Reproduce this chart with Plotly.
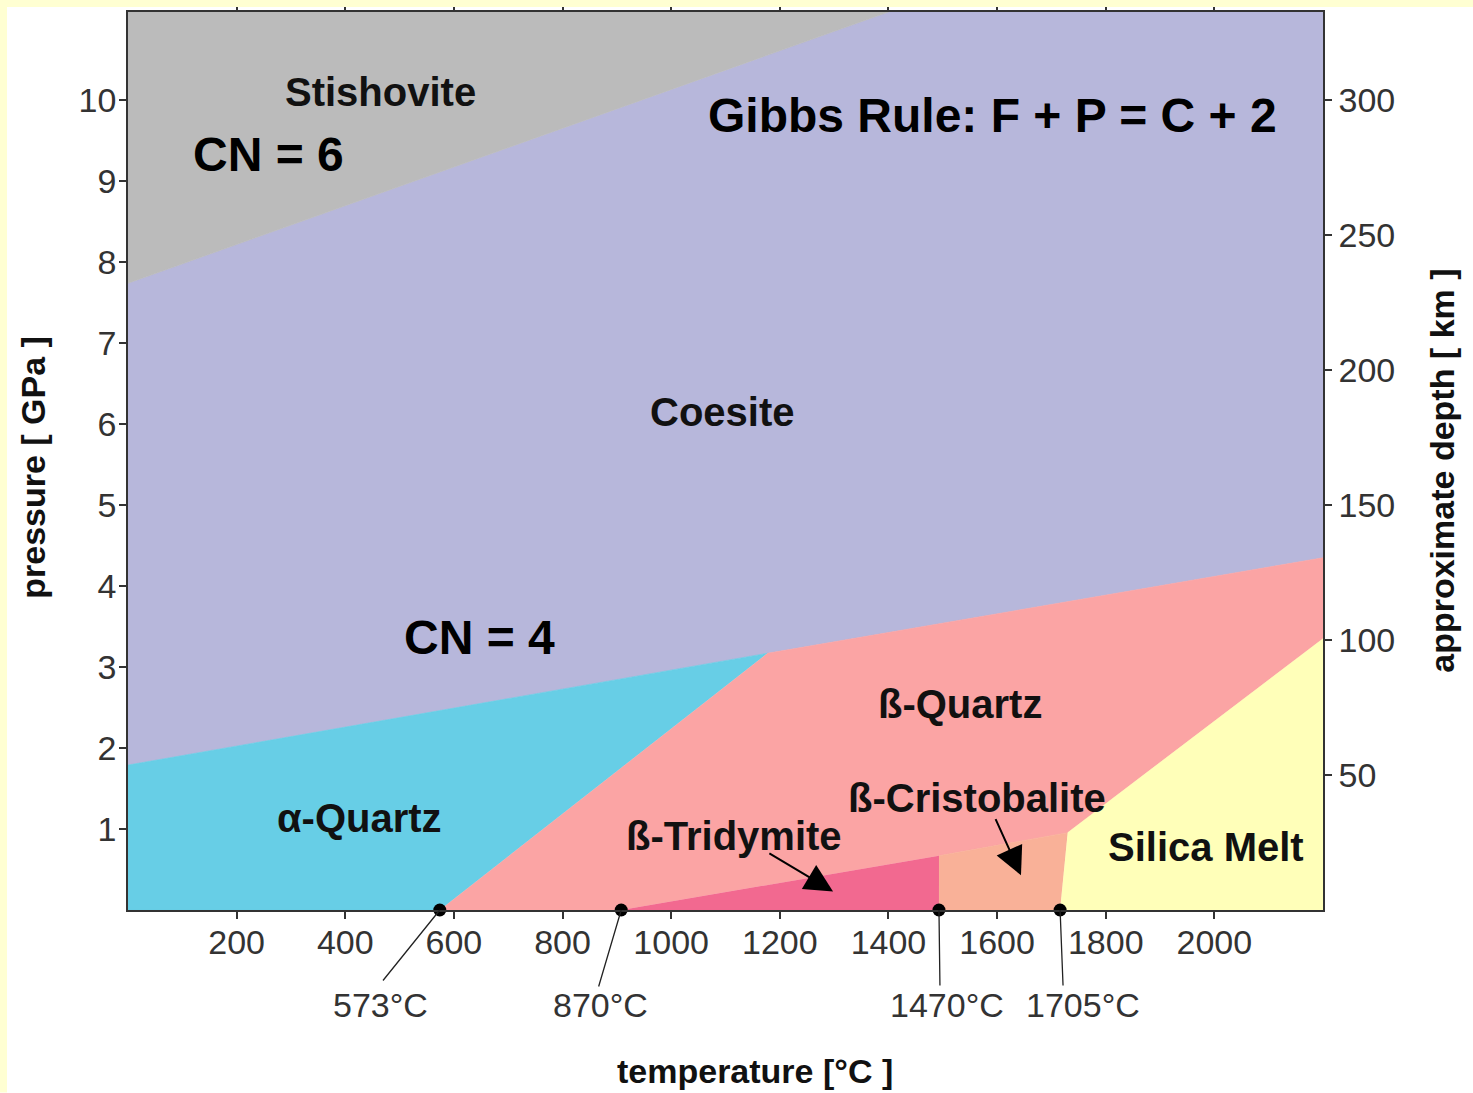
import plotly.graph_objects as go

# ---------------- data ----------------
T_MAX = 2200
P_MAX = 11.09
KM_PER_GPA = 30

stishovite_T = [0, 1400, 0]
stishovite_P = [7.74, 11.09, 11.09]
coesite_T = [0, 1177, 2200, 2200, 1400, 0]
coesite_P = [1.79, 3.17, 4.35, 11.09, 11.09, 7.74]
alpha_quartz_T = [0, 574, 1177, 0]
alpha_quartz_P = [0, 0, 3.17, 1.79]
beta_quartz_T = [574, 908, 1493, 1730, 2200, 2200, 1177]
beta_quartz_P = [0, 0, 0.67, 0.955, 3.35, 4.35, 3.17]
tridymite_T = [908, 1493, 1493]
tridymite_P = [0, 0, 0.67]
cristobalite_T = [1493, 1716, 1730, 1493]
cristobalite_P = [0, 0, 0.955, 0.67]
melt_T = [1716, 2200, 2200, 1730]
melt_P = [0, 0, 3.35, 0.955]

transition_T = [574, 908, 1493, 1716]
transition_labels = ["573°C", "870°C", "1470°C", "1705°C"]
transition_label_T = [465, 870, 1507, 1759]

field_names = ["Stishovite", "Coesite", "α-Quartz", "ß-Quartz", "ß-Tridymite",
               "ß-Cristobalite", "Silica Melt"]
field_label_T = [464, 1094, 427, 1532, 1116, 1563, 1985]
field_label_P = [10.10, 6.15, 1.14, 2.54, 0.92, 1.38, 0.78]

big_texts = ["CN = 6", "CN = 4", "Gibbs Rule: F + P = C + 2"]
big_text_T = [258, 648, 1591]
big_text_P = [9.33, 3.36, 9.81]

x_ticks = [200, 400, 600, 800, 1000, 1200, 1400, 1600, 1800, 2000]
p_ticks = [1, 2, 3, 4, 5, 6, 7, 8, 9, 10]
depth_ticks = [50, 100, 150, 200, 250, 300]

# ---------------- styling ----------------
W, H = 1473, 1093
L, R, TOP, B = 128, 150, 12, 182.5
PW, PH = W - L - R, H - TOP - B
FONT = "Liberation Sans, Arial, sans-serif"


def px(xp):
    return (xp - L) / PW


def py(yp):
    return (H - B - yp) / PH


fields = [
    (coesite_T, coesite_P, "#b7b7db"),
    (stishovite_T, stishovite_P, "#bbbbbb"),
    (alpha_quartz_T, alpha_quartz_P, "#67cee6"),
    (beta_quartz_T, beta_quartz_P, "#fba4a4"),
    (tridymite_T, tridymite_P, "#f26990"),
    (cristobalite_T, cristobalite_P, "#f9b198"),
    (melt_T, melt_P, "#ffffb9"),
]

fig = go.Figure()
for t, p, c in fields:
    fig.add_trace(go.Scatter(x=t, y=p, fill="toself", fillcolor=c, mode="lines",
                             line=dict(color=c, width=0.6), hoverinfo="skip",
                             showlegend=False))

fig.add_trace(go.Scatter(x=transition_T, y=[0] * len(transition_T), mode="markers",
                         marker=dict(color="black", size=13), cliponaxis=False,
                         showlegend=False, hoverinfo="skip"))

# invisible trace for right axis
fig.add_trace(go.Scatter(x=[0], y=[0], yaxis="y2", mode="markers",
                         marker=dict(opacity=0), showlegend=False, hoverinfo="skip"))

annotations = []
for name, t, p in zip(field_names, field_label_T, field_label_P):
    annotations.append(dict(x=t, y=p, xref="x", yref="y", text="<b>%s</b>" % name,
                            showarrow=False, xanchor="center", yanchor="middle",
                            font=dict(family=FONT, size=40, color="#111")))
for name, t, p in zip(big_texts, big_text_T, big_text_P):
    annotations.append(dict(x=t, y=p, xref="x", yref="y", text="<b>%s</b>" % name,
                            showarrow=False, xanchor="center", yanchor="middle",
                            font=dict(family=FONT, size=48, color="black")))

# arrows to tridymite / cristobalite
annotations.append(dict(x=1298, y=0.23, ax=1178, ay=0.71, xref="x", yref="y",
                        axref="x", ayref="y", text="", showarrow=True, arrowhead=2,
                        arrowsize=2.8, arrowwidth=2, arrowcolor="black"))
annotations.append(dict(x=1644, y=0.43, ax=1596, ay=1.14, xref="x", yref="y",
                        axref="x", ayref="y", text="", showarrow=True, arrowhead=2,
                        arrowsize=2.8, arrowwidth=2, arrowcolor="black"))

# leader lines and transition labels
leader_dx = [-58, -23, 1, 3]
leader_dy = [72, 78, 77, 77]
for t, dx, dy in zip(transition_T, leader_dx, leader_dy):
    annotations.append(dict(x=t, y=0, xref="x", yref="y", ax=dx, ay=dy, text="",
                            showarrow=True, arrowhead=0, arrowwidth=1.3,
                            arrowcolor="#222"))
for t, lab in zip(transition_label_T, transition_labels):
    annotations.append(dict(x=t, y=py(1006), xref="x", yref="paper", text=lab,
                            showarrow=False, xanchor="center", yanchor="middle",
                            font=dict(family=FONT, size=34, color="#333")))

# axis titles
annotations.append(dict(x=px(755), y=py(1072), xref="paper", yref="paper",
                        text="<b>temperature [°C ]</b>", showarrow=False,
                        xanchor="center", yanchor="middle",
                        font=dict(family=FONT, size=34, color="#111")))
annotations.append(dict(x=px(33), y=py(468), xref="paper", yref="paper",
                        text="<b>pressure [ GPa ]</b>", showarrow=False, textangle=-90,
                        xanchor="center", yanchor="middle",
                        font=dict(family=FONT, size=34, color="#111")))
annotations.append(dict(x=px(1442), y=py(471), xref="paper", yref="paper",
                        text="<b>approximate depth [ km ]</b>", showarrow=False,
                        textangle=-90, xanchor="center", yanchor="middle",
                        font=dict(family=FONT, size=34, color="#111")))

shapes = [
    dict(type="rect", xref="paper", yref="paper", x0=px(0), x1=px(7), y0=py(H),
         y1=py(0), fillcolor="#ffffd2", line=dict(width=0)),
    dict(type="rect", xref="paper", yref="paper", x0=px(0), x1=px(W), y0=py(7),
         y1=py(0), fillcolor="#ffffd2", line=dict(width=0)),
]

tickfont = dict(family=FONT, size=34, color="#333")
common = dict(showgrid=False, zeroline=False, automargin=False, showline=True,
              linecolor="#333", linewidth=1.5, tickcolor="#333", tickwidth=1.5)

fig.update_layout(
    template="none",
    width=W, height=H,
    margin=dict(l=L, r=R, t=TOP, b=B, pad=0),
    paper_bgcolor="white", plot_bgcolor="white",
    showlegend=False,
    xaxis=dict(range=[0, T_MAX], tickvals=x_ticks, ticks="outside", ticklen=7,
               mirror="ticks", tickfont=tickfont, ticklabelstandoff=-6, **common),
    xaxis2=dict(range=[0, T_MAX], tickvals=[0] + x_ticks + [T_MAX], ticks="inside",
                ticklen=6, mirror="ticks", showticklabels=False,
                overlaying="x", anchor="y", side="bottom", **common),
    yaxis=dict(range=[0, P_MAX], tickvals=p_ticks, ticks="outside", ticklen=7,
               mirror=True, tickfont=tickfont, ticklabelstandoff=-4, **common),
    yaxis3=dict(range=[0, P_MAX], tickvals=p_ticks, ticks="inside", ticklen=5,
                showticklabels=False, overlaying="y", anchor="x", side="left",
                **common),
    yaxis2=dict(range=[0, P_MAX * KM_PER_GPA], tickvals=depth_ticks, ticks="outside",
                ticklen=7, overlaying="y", side="right", anchor="x",
                tickfont=tickfont, **common),
    yaxis4=dict(range=[0, P_MAX * KM_PER_GPA], tickvals=depth_ticks, ticks="inside",
                ticklen=5, overlaying="y", side="right", anchor="x",
                showticklabels=False, **common),
    annotations=annotations,
    shapes=shapes,
)

fig.write_html("out.html", config={"displayModeBar": False},
               post_script="document.body.style.margin='0px';")
